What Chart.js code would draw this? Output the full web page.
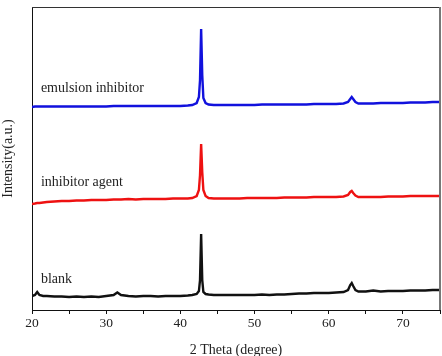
<!DOCTYPE html>
<html>
<head>
<meta charset="utf-8">
<script src="https://cdn.jsdelivr.net/npm/chart.js@4/dist/chart.umd.min.js"></script>
<style>
  html, body { margin: 0; padding: 0; background: #fff; }
  #wrap { width: 442px; height: 356px; }
</style>
</head>
<body>
<div id="wrap"><canvas id="xrd"></canvas></div>
<script>
// 2 Theta positions (degree), shared by all three scans
const twoTheta = [
  20, 20.4, 20.7, 21, 21.5, 22, 23, 24, 25, 26,
  27, 28, 29, 30, 31, 31.5, 32, 33, 34, 35,
  36, 37, 38, 39, 40, 41, 41.6, 42.2, 42.5, 42.65,
  42.8, 42.95, 43.1, 43.4, 43.8, 44.5, 45, 46, 47, 48,
  49, 50, 51, 52, 53, 54, 55, 56, 57, 58,
  59, 60, 61, 62, 62.6, 62.9, 63.1, 63.3, 63.6, 64,
  65, 66, 67, 68, 69, 70, 71, 72, 73, 74,
  75
];

// intensity (a.u., stacked with offsets as in the figure)
const blank = [
  14, 15, 18, 15, 14, 14, 13.5, 13.5, 13, 13.5,
  13, 13.5, 13, 14, 15, 17.5, 15, 14, 13.5, 14,
  14, 13.5, 14, 14, 14, 14.5, 15, 16, 19, 30,
  76, 30, 18, 16, 15.5, 15, 15, 15, 15, 15,
  15, 15, 15.5, 15, 15.5, 15.5, 16, 16.5, 16.5, 17,
  17, 17, 17.5, 18, 20, 25, 27, 24, 20, 18.5,
  18.5, 19.5, 18.5, 19, 19, 19, 19.5, 19.5, 19.5, 20,
  20
];

const inhibitorAgent = [
  106, 106.5, 107, 107, 107.5, 108, 108.5, 109, 109, 109.5,
  109.5, 110, 110, 110, 110.5, 110.5, 110.5, 111, 110.5, 111,
  111, 111, 111, 111.5, 111.5, 111.5, 112, 114, 120, 135,
  166, 138, 120, 114, 112, 111.5, 111.5, 111.5, 111.5, 111.5,
  112, 112, 112, 112, 112, 112.5, 112.5, 112.5, 112.5, 113,
  113, 113, 113, 113.5, 115, 118, 119, 117, 114.5, 113,
  113, 113, 113, 113.5, 113.5, 113.5, 114, 114, 114, 114,
  114
];

const emulsionInhibitor = [
  203, 203.5, 203.5, 203.5, 203.5, 203.5, 203.5, 203.5, 203.5, 203.5,
  203.5, 203.5, 203.5, 203.5, 204, 204, 204, 204, 204, 204,
  204, 204, 204, 204, 204, 204.5, 205, 207, 213, 230,
  281, 235, 212, 207, 205.5, 205, 205, 205, 205, 205,
  205, 205, 205.5, 205.5, 205.5, 205.5, 205.5, 205.5, 205.5, 206,
  206, 206, 206, 206.5, 208, 211, 213, 211, 208, 206.5,
  206.5, 206.5, 207, 207, 207, 207, 207.5, 207.5, 207.5, 208,
  208
];

const seriesNames = ["blank", "inhibitor agent", "emulsion inhibitor"];
const seriesColors = ["#111111", "#ee1111", "#1111dd"];
// where each curve's name is written (data coordinates)
const labelX = [21.2, 21.2, 21.2];
const labelY = [31, 128, 222];

const serif = "'Liberation Serif', 'Times New Roman', serif";

function toPoints(ys) {
    return twoTheta.map((x, i) => ({x: x, y: ys[i]}));
}

const curveLabels = {
    id: "curveLabels",
    afterDatasetsDraw(chart) {
        const ctx = chart.ctx;
        const xs = chart.scales.x;
        const ys = chart.scales.y;
        ctx.save();
        ctx.font = "14px " + serif;
        ctx.fillStyle = "#222";
        ctx.textBaseline = "middle";
        ctx.textAlign = "left";
        seriesNames.forEach((name, i) => {
            ctx.fillText(name, xs.getPixelForValue(labelX[i]), ys.getPixelForValue(labelY[i]));
        });
        // frame round the plot
        const a = chart.chartArea;
        ctx.strokeStyle = "#333";
        ctx.lineWidth = 1;
        ctx.beginPath();
        ctx.moveTo(a.left, a.top + 0.5);
        ctx.lineTo(a.right, a.top + 0.5);
        ctx.stroke();
        ctx.strokeStyle = "#777";
        ctx.lineWidth = 2;
        ctx.beginPath();
        ctx.moveTo(a.right, a.top);
        ctx.lineTo(a.right, a.bottom);
        ctx.stroke();
        ctx.restore();
    }
};

const ctx = document.getElementById("xrd").getContext("2d");
new Chart(ctx, {
    type: "line",
    data: {
        datasets: [blank, inhibitorAgent, emulsionInhibitor].map((ys, i) => ({
            label: seriesNames[i],
            data: toPoints(ys),
            borderColor: seriesColors[i],
            borderWidth: 2.4,
            pointRadius: 0,
            tension: 0,
            fill: false
        }))
    },
    options: {
        responsive: true,
        maintainAspectRatio: false,
        animation: false,
        layout: {padding: {top: 7, right: 2, left: 0, bottom: 0}},
        plugins: {legend: {display: false}, tooltip: {enabled: false}},
        scales: {
            x: {
                type: "linear",
                min: 20,
                max: 75,
                grid: {drawOnChartArea: false, drawTicks: true, tickLength: 4, color: "#111"},
                border: {display: true, color: "#111", width: 1},
                ticks: {
                    stepSize: 5,
                    padding: 1,
                    color: "#222",
                    font: {family: serif, size: 13.5},
                    maxRotation: 0,
                    autoSkip: false,
                    callback: v => (v % 10 === 0 ? v : "")
                },
                title: {
                    display: true,
                    text: "2 Theta (degree)",
                    color: "#222",
                    font: {family: serif, size: 14, lineHeight: 1},
                    padding: {top: 0, bottom: -1}
                },
                afterFit: s => { s.height = 46; }
            },
            y: {
                min: 0,
                max: 303,
                grid: {display: false},
                border: {display: true, color: "#111", width: 1},
                ticks: {display: false},
                title: {
                    display: true,
                    text: "Intensity(a.u.)",
                    color: "#222",
                    font: {family: serif, size: 14, lineHeight: 1},
                    padding: {top: 1, bottom: 0}
                },
                afterFit: s => { s.width = 32; }
            }
        }
    },
    plugins: [curveLabels]
});
</script>
</body>
</html>
